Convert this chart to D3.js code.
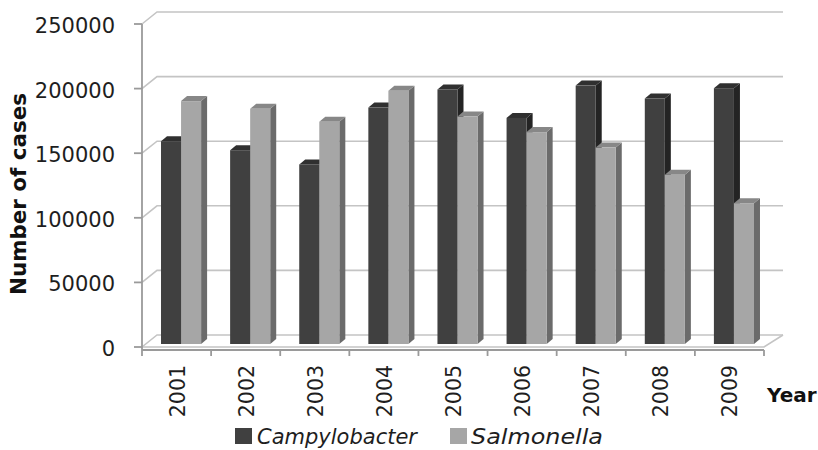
<!DOCTYPE html>
<html><head><meta charset="utf-8">
<script src="https://cdn.jsdelivr.net/npm/d3@7"></script>
<style>html,body{margin:0;padding:0;background:#fff;}svg{display:block;}</style>
</head><body>
<svg id="chart" width="818" height="450"></svg>
<script>
const years = ["2001","2002","2003","2004","2005","2006","2007","2008","2009"];
const seriesNames = ["Campylobacter","Salmonella"];
const campylobacter = [157000,150000,139000,183000,197000,175000,200000,190000,198000];
const salmonella = [188000,182000,172000,196000,176000,164000,152000,131000,109000];
const yTicks = [0,50000,100000,150000,200000,250000];

const svg = d3.select("#chart");
const font = "'DejaVu Sans', sans-serif";
const colors = {
  Campylobacter: {front:"#404040", top:"#303030", side:"#242424"},
  Salmonella: {front:"#a6a6a6", top:"#878787", side:"#6b6b6b"}
};
const left = 142, right = 764, depthX = 15, depthY = 12;
const y = d3.scaleLinear().domain([0,250000]).range([347,24]);
const x = d3.scaleBand().domain(years).range([left,right]).paddingInner(0.42).paddingOuter(0.21);
const xs = d3.scaleBand().domain(seriesNames).range([0,x.bandwidth()]);
const gridC = "#c4c4c4", axisC = "#9a9a9a";

// walls gridlines
const g = svg.append("g");
yTicks.forEach(t => {
  const yy = y(t);
  g.append("path")
    .attr("d", `M${left},${yy}L${left+depthX},${yy-depthY}L${right+depthX+4},${yy-depthY}`)
    .attr("fill","none").attr("stroke",gridC).attr("stroke-width",1.6);
});
// floor
g.append("path")
  .attr("d", `M${left},${y(0)}L${right},${y(0)}L${right+depthX+4},${y(0)-depthY}`)
  .attr("fill","none").attr("stroke",gridC).attr("stroke-width",1.6);

// bars
const data = years.map((yr,i)=>({year:yr, vals:[{s:"Campylobacter",v:campylobacter[i]},{s:"Salmonella",v:salmonella[i]}]}));
const bdx = 6, bdy = 5, fx = 4.5, fy = 3;
const bars = svg.append("g");
data.forEach(d => {
  d.vals.forEach(b => {
    const x0 = x(d.year) + xs(b.s) + fx;
    const w = xs.bandwidth();
    const yt = y(b.v) - fy, yb = y(0) - fy;
    const c = colors[b.s];
    bars.append("polygon")
      .attr("points", `${x0+w},${yt} ${x0+w+bdx},${yt-bdy} ${x0+w+bdx},${yb-bdy} ${x0+w},${yb}`)
      .attr("fill", c.side);
    bars.append("polygon")
      .attr("points", `${x0},${yt} ${x0+bdx},${yt-bdy} ${x0+w+bdx},${yt-bdy} ${x0+w},${yt}`)
      .attr("fill", c.top);
    bars.append("rect").attr("x",x0).attr("y",yt).attr("width",w).attr("height",yb-yt).attr("fill",c.front);
  });
});

// y axis
const ya = svg.append("g");
ya.append("line").attr("x1",left).attr("x2",left).attr("y1",y(250000)).attr("y2",y(0)+3)
  .attr("stroke",axisC).attr("stroke-width",1.8);
yTicks.forEach(t => {
  ya.append("line").attr("x1",left-8).attr("x2",left).attr("y1",y(t)).attr("y2",y(t))
    .attr("stroke",axisC).attr("stroke-width",1.8);
  ya.append("text").attr("x",115).attr("y",y(t)+9).attr("text-anchor","end")
    .attr("font-family",font).attr("font-size",21).attr("fill","#1e1e1e").text(t);
});

// x axis
const xa = svg.append("g");
xa.append("line").attr("x1",left).attr("x2",right).attr("y1",350).attr("y2",350)
  .attr("stroke",axisC).attr("stroke-width",1.8);
const bounds = years.map(yr => x(yr) - x.step()*x.paddingOuter());
bounds.push(right);
bounds.forEach(bx => {
  xa.append("line").attr("x1",bx).attr("x2",bx).attr("y1",350).attr("y2",356)
    .attr("stroke",axisC).attr("stroke-width",1.8);
});
years.forEach(yr => {
  const cx = x(yr) + x.bandwidth()/2;
  xa.append("text").attr("transform",`translate(${cx+8},365) rotate(-90)`)
    .attr("text-anchor","end").attr("font-family",font).attr("font-size",20.5).attr("fill","#1e1e1e").text(yr);
});

// axis titles
svg.append("text").attr("transform","translate(26,194) rotate(-90)").attr("text-anchor","middle")
  .attr("font-family",font).attr("font-weight","bold").attr("font-size",21).attr("fill","#111")
  .attr("textLength",202).attr("lengthAdjust","spacingAndGlyphs").text("Number of cases");
svg.append("text").attr("x",767).attr("y",402).attr("font-family",font).attr("font-weight","bold")
  .attr("font-size",20).attr("fill","#111").text("Year");

// legend
const legend = svg.append("g");
const legendItems = [
  {s:"Campylobacter", sx:235, tx:257, tw:160},
  {s:"Salmonella", sx:450, tx:471, tw:132}
];
legendItems.forEach(li => {
  legend.append("rect").attr("x",li.sx).attr("y",428).attr("width",17).attr("height",16).attr("fill",colors[li.s].front);
  legend.append("text").attr("x",li.tx).attr("y",444).attr("font-family",font).attr("font-style","italic")
    .attr("font-size",21.5).attr("fill","#1e1e1e").attr("textLength",li.tw).attr("lengthAdjust","spacingAndGlyphs").text(li.s);
});
</script>
</body></html>
